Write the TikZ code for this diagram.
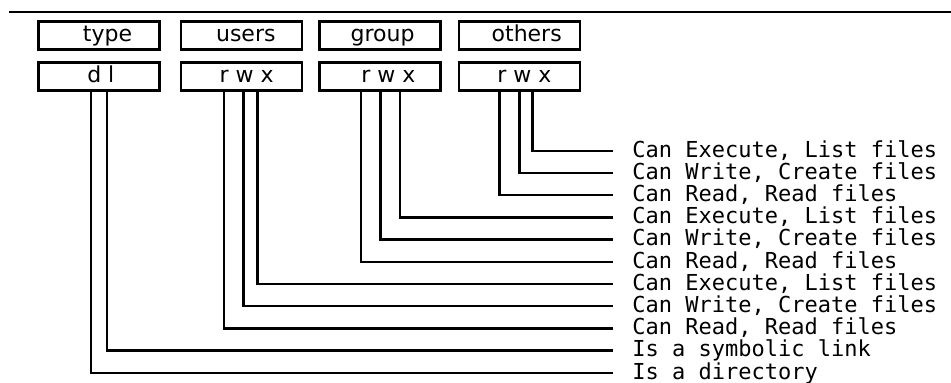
\documentclass[tikz,border=0pt]{standalone}
\usepackage{fontspec}
\setmainfont{DejaVu Sans}
\newfontfamily\lblfont{DejaVu Sans Mono}
\tikzstyle{field}=[draw,line width=1.4pt,minimum width=60.5pt,minimum height=14pt,inner sep=0pt,text height=8pt,text depth=2pt,font=\fontsize{11}{13}\selectfont]
\tikzstyle{desc}=[anchor=west,inner xsep=9.5pt,inner ysep=0pt,text height=8.3pt,text depth=2pt,font=\lblfont\fontsize{11}{13}\selectfont]
\tikzstyle{wire}=[line width=1.2pt]

\begin{document}
\begin{tikzpicture}[x=0.5pt, y=-0.5pt]
\useasboundingbox (0,0) rectangle (951,382);
\draw[line width=0.9pt] (9,12.3) -- (951,12.3);
\node[field] at (99, 35.5) (type) {\hspace*{8.5pt}type};
\node[field] at (241.5, 35.5) (users) {\hspace*{4.3pt}users};
\node[field] at (380, 35.5) (group) {\hspace*{2.5pt}group};
\node[field] at (519.5, 35.5) (others) {\hspace*{7.2pt}others};
\node[field] at (99, 76.5) (tbits) {\hspace*{1.8pt}d l};
\node[field] at (241.5, 76.5) (ubits) {\hspace*{5.2pt}r w x};
\node[field] at (380, 76.5) (gbits) {\hspace*{8.3pt}r w x};
\node[field] at (519.5, 76.5) (obits) {\hspace*{4.8pt}r w x};
\node[desc] at (613, 150.7) (oexec) {Can Execute, List files};
\node[desc] at (613, 172.9) (owrite) {Can Write, Create files};
\node[desc] at (613, 195.1) (oread) {Can Read, Read files};
\node[desc] at (613, 217.3) (gexec) {Can Execute, List files};
\node[desc] at (613, 239.5) (gwrite) {Can Write, Create files};
\node[desc] at (613, 261.7) (gread) {Can Read, Read files};
\node[desc] at (613, 283.9) (uexec) {Can Execute, List files};
\node[desc] at (613, 306.1) (uwrite) {Can Write, Create files};
\node[desc] at (613, 328.3) (uread) {Can Read, Read files};
\node[desc] at (613, 350.5) (link) {Is a symbolic link};
\node[desc] at (613, 372.7) (dir) {Is a directory};
\draw[wire] (tbits.south west) ++(54,0) |- (dir.west);
\draw[wire] (tbits.south west) ++(70,0) |- (link.west);
\draw[wire] (ubits.south west) ++(44.5,0) |- (uread.west);
\draw[wire] (ubits.south west) ++(64,0) |- (uwrite.west);
\draw[wire] (ubits.south west) ++(78,0) |- (uexec.west);
\draw[wire] (gbits.south west) ++(43,0) |- (gread.west);
\draw[wire] (gbits.south west) ++(62.5,0) |- (gwrite.west);
\draw[wire] (gbits.south west) ++(82,0) |- (gexec.west);
\draw[wire] (obits.south west) ++(42,0) |- (oread.west);
\draw[wire] (obits.south west) ++(62,0) |- (owrite.west);
\draw[wire] (obits.south west) ++(75,0) |- (oexec.west);
\end{tikzpicture}
\end{document}
